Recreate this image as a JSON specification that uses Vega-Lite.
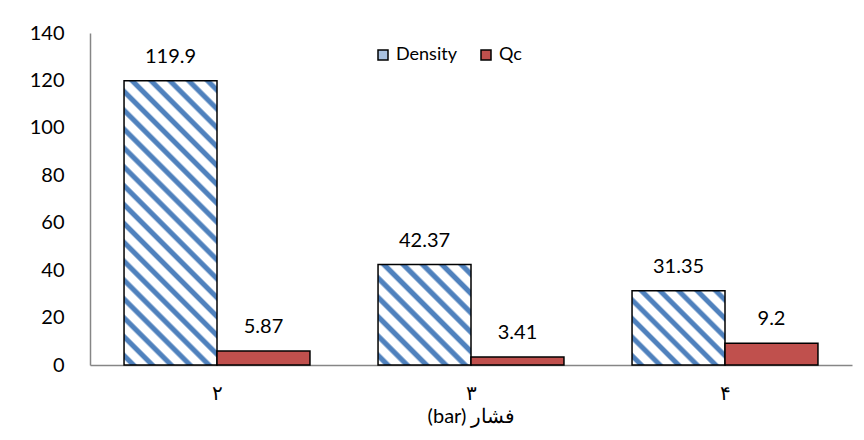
{
  "$schema": "https://vega.github.io/schema/vega-lite/v6.json",
  "autosize": {"type": "none"},
  "padding": {"left": 90, "top": 33, "right": 12, "bottom": 75},
  "width": 762,
  "height": 332,
  "config": {
    "font": "Lato",
    "view": {"stroke": null},
    "axis": {"labelFont": "Lato", "titleFont": "Lato", "labelColor": "#000000", "titleColor": "#000000"}
  },
  "data": {
    "values": [
      {"pressure": "۲", "series": "Density", "value": 119.9},
      {"pressure": "۲", "series": "Qc", "value": 5.87},
      {"pressure": "۳", "series": "Density", "value": 42.37},
      {"pressure": "۳", "series": "Qc", "value": 3.41},
      {"pressure": "۴", "series": "Density", "value": 31.35},
      {"pressure": "۴", "series": "Qc", "value": 9.2}
    ]
  },
  "encoding": {
    "x": {
      "field": "pressure",
      "type": "nominal",
      "sort": ["۲", "۳", "۴"],
      "scale": {"paddingInner": 0.268, "paddingOuter": 0.134},
      "axis": {
        "title": "(bar) فشار",
        "titleFontSize": 20,
        "titleFontWeight": "normal",
        "titlePadding": 3,
        "labelFontSize": 20,
        "labelAngle": 0,
        "labelPadding": 18,
        "ticks": false,
        "domainColor": "#868686",
        "domainWidth": 1.5
      }
    },
    "xOffset": {"field": "series", "sort": ["Density", "Qc"], "scale": {"paddingInner": 0, "paddingOuter": 0}},
    "y": {
      "field": "value",
      "type": "quantitative",
      "scale": {"domain": [0, 140], "nice": false},
      "axis": {
        "title": null,
        "values": [0, 20, 40, 60, 80, 100, 120, 140],
        "grid": false,
        "ticks": false,
        "labelFontSize": 20,
        "labelPadding": 26,
        "domainColor": "#868686",
        "domainWidth": 1.5
      }
    }
  },
  "layer": [
    {
      "mark": {"type": "bar", "stroke": "#000000", "strokeWidth": 1.5},
      "encoding": {
        "color": {
          "field": "series",
          "type": "nominal",
          "scale": {
            "domain": ["Density", "Qc"],
            "range": ["#A9C1E0", "#C0504D"]
          },
          "legend": {
            "title": null,
            "orient": "none",
            "legendX": 284,
            "legendY": 13,
            "direction": "horizontal",
            "symbolType": "square",
            "symbolSize": 100,
            "symbolStrokeColor": "#000000",
            "symbolStrokeWidth": 1.5,
            "symbolOpacity": 1,
            "labelFontSize": 18,
            "labelColor": "#000000",
            "labelFont": "Lato",
            "columnPadding": 20
          },
          "condition": [
            {
              "test": "datum.series === 'Density' && datum.pressure === '۲'",
              "value": {"gradient": "linear", "x1": 0, "y1": 1, "x2": 0.3922, "y2": -0.1989, "stops": [
                {"offset": 0.0125, "color": "#FFFFFF"}, {"offset": 0.0185, "color": "#4F81BD"}, {"offset": 0.0315, "color": "#4F81BD"}, {"offset": 0.0375, "color": "#FFFFFF"},
                {"offset": 0.0625, "color": "#FFFFFF"}, {"offset": 0.0685, "color": "#4F81BD"}, {"offset": 0.0815, "color": "#4F81BD"}, {"offset": 0.0875, "color": "#FFFFFF"},
                {"offset": 0.1125, "color": "#FFFFFF"}, {"offset": 0.1185, "color": "#4F81BD"}, {"offset": 0.1315, "color": "#4F81BD"}, {"offset": 0.1375, "color": "#FFFFFF"},
                {"offset": 0.1625, "color": "#FFFFFF"}, {"offset": 0.1685, "color": "#4F81BD"}, {"offset": 0.1815, "color": "#4F81BD"}, {"offset": 0.1875, "color": "#FFFFFF"},
                {"offset": 0.2125, "color": "#FFFFFF"}, {"offset": 0.2185, "color": "#4F81BD"}, {"offset": 0.2315, "color": "#4F81BD"}, {"offset": 0.2375, "color": "#FFFFFF"},
                {"offset": 0.2625, "color": "#FFFFFF"}, {"offset": 0.2685, "color": "#4F81BD"}, {"offset": 0.2815, "color": "#4F81BD"}, {"offset": 0.2875, "color": "#FFFFFF"},
                {"offset": 0.3125, "color": "#FFFFFF"}, {"offset": 0.3185, "color": "#4F81BD"}, {"offset": 0.3315, "color": "#4F81BD"}, {"offset": 0.3375, "color": "#FFFFFF"},
                {"offset": 0.3625, "color": "#FFFFFF"}, {"offset": 0.3685, "color": "#4F81BD"}, {"offset": 0.3815, "color": "#4F81BD"}, {"offset": 0.3875, "color": "#FFFFFF"},
                {"offset": 0.4125, "color": "#FFFFFF"}, {"offset": 0.4185, "color": "#4F81BD"}, {"offset": 0.4315, "color": "#4F81BD"}, {"offset": 0.4375, "color": "#FFFFFF"},
                {"offset": 0.4625, "color": "#FFFFFF"}, {"offset": 0.4685, "color": "#4F81BD"}, {"offset": 0.4815, "color": "#4F81BD"}, {"offset": 0.4875, "color": "#FFFFFF"},
                {"offset": 0.5125, "color": "#FFFFFF"}, {"offset": 0.5185, "color": "#4F81BD"}, {"offset": 0.5315, "color": "#4F81BD"}, {"offset": 0.5375, "color": "#FFFFFF"},
                {"offset": 0.5625, "color": "#FFFFFF"}, {"offset": 0.5685, "color": "#4F81BD"}, {"offset": 0.5815, "color": "#4F81BD"}, {"offset": 0.5875, "color": "#FFFFFF"},
                {"offset": 0.6125, "color": "#FFFFFF"}, {"offset": 0.6185, "color": "#4F81BD"}, {"offset": 0.6315, "color": "#4F81BD"}, {"offset": 0.6375, "color": "#FFFFFF"},
                {"offset": 0.6625, "color": "#FFFFFF"}, {"offset": 0.6685, "color": "#4F81BD"}, {"offset": 0.6815, "color": "#4F81BD"}, {"offset": 0.6875, "color": "#FFFFFF"},
                {"offset": 0.7125, "color": "#FFFFFF"}, {"offset": 0.7185, "color": "#4F81BD"}, {"offset": 0.7315, "color": "#4F81BD"}, {"offset": 0.7375, "color": "#FFFFFF"},
                {"offset": 0.7625, "color": "#FFFFFF"}, {"offset": 0.7685, "color": "#4F81BD"}, {"offset": 0.7815, "color": "#4F81BD"}, {"offset": 0.7875, "color": "#FFFFFF"},
                {"offset": 0.8125, "color": "#FFFFFF"}, {"offset": 0.8185, "color": "#4F81BD"}, {"offset": 0.8315, "color": "#4F81BD"}, {"offset": 0.8375, "color": "#FFFFFF"},
                {"offset": 0.8625, "color": "#FFFFFF"}, {"offset": 0.8685, "color": "#4F81BD"}, {"offset": 0.8815, "color": "#4F81BD"}, {"offset": 0.8875, "color": "#FFFFFF"},
                {"offset": 0.9125, "color": "#FFFFFF"}, {"offset": 0.9185, "color": "#4F81BD"}, {"offset": 0.9315, "color": "#4F81BD"}, {"offset": 0.9375, "color": "#FFFFFF"},
                {"offset": 0.9625, "color": "#FFFFFF"}, {"offset": 0.9685, "color": "#4F81BD"}, {"offset": 0.9815, "color": "#4F81BD"}, {"offset": 0.9875, "color": "#FFFFFF"}
              ]}
            },
            {
              "test": "datum.series === 'Density' && datum.pressure === '۳'",
              "value": {"gradient": "linear", "x1": 0, "y1": 1, "x2": 0.9598, "y2": -0.0372, "stops": [
                {"offset": 0.025, "color": "#FFFFFF"}, {"offset": 0.037, "color": "#4F81BD"}, {"offset": 0.063, "color": "#4F81BD"}, {"offset": 0.075, "color": "#FFFFFF"},
                {"offset": 0.125, "color": "#FFFFFF"}, {"offset": 0.137, "color": "#4F81BD"}, {"offset": 0.163, "color": "#4F81BD"}, {"offset": 0.175, "color": "#FFFFFF"},
                {"offset": 0.225, "color": "#FFFFFF"}, {"offset": 0.237, "color": "#4F81BD"}, {"offset": 0.263, "color": "#4F81BD"}, {"offset": 0.275, "color": "#FFFFFF"},
                {"offset": 0.325, "color": "#FFFFFF"}, {"offset": 0.337, "color": "#4F81BD"}, {"offset": 0.363, "color": "#4F81BD"}, {"offset": 0.375, "color": "#FFFFFF"},
                {"offset": 0.425, "color": "#FFFFFF"}, {"offset": 0.437, "color": "#4F81BD"}, {"offset": 0.463, "color": "#4F81BD"}, {"offset": 0.475, "color": "#FFFFFF"},
                {"offset": 0.525, "color": "#FFFFFF"}, {"offset": 0.537, "color": "#4F81BD"}, {"offset": 0.563, "color": "#4F81BD"}, {"offset": 0.575, "color": "#FFFFFF"},
                {"offset": 0.625, "color": "#FFFFFF"}, {"offset": 0.637, "color": "#4F81BD"}, {"offset": 0.663, "color": "#4F81BD"}, {"offset": 0.675, "color": "#FFFFFF"},
                {"offset": 0.725, "color": "#FFFFFF"}, {"offset": 0.737, "color": "#4F81BD"}, {"offset": 0.763, "color": "#4F81BD"}, {"offset": 0.775, "color": "#FFFFFF"},
                {"offset": 0.825, "color": "#FFFFFF"}, {"offset": 0.837, "color": "#4F81BD"}, {"offset": 0.863, "color": "#4F81BD"}, {"offset": 0.875, "color": "#FFFFFF"},
                {"offset": 0.925, "color": "#FFFFFF"}, {"offset": 0.937, "color": "#4F81BD"}, {"offset": 0.963, "color": "#4F81BD"}, {"offset": 0.975, "color": "#FFFFFF"}
              ]}
            },
            {
              "test": "datum.series === 'Density' && datum.pressure === '۴'",
              "value": {"gradient": "linear", "x1": 0, "y1": 1, "x2": 1.0981, "y2": 0.1227, "stops": [
                {"offset": 0.0278, "color": "#FFFFFF"}, {"offset": 0.0411, "color": "#4F81BD"}, {"offset": 0.0700, "color": "#4F81BD"}, {"offset": 0.0833, "color": "#FFFFFF"},
                {"offset": 0.1389, "color": "#FFFFFF"}, {"offset": 0.1522, "color": "#4F81BD"}, {"offset": 0.1811, "color": "#4F81BD"}, {"offset": 0.1944, "color": "#FFFFFF"},
                {"offset": 0.2500, "color": "#FFFFFF"}, {"offset": 0.2633, "color": "#4F81BD"}, {"offset": 0.2922, "color": "#4F81BD"}, {"offset": 0.3055, "color": "#FFFFFF"},
                {"offset": 0.3611, "color": "#FFFFFF"}, {"offset": 0.3744, "color": "#4F81BD"}, {"offset": 0.4033, "color": "#4F81BD"}, {"offset": 0.4166, "color": "#FFFFFF"},
                {"offset": 0.4722, "color": "#FFFFFF"}, {"offset": 0.4855, "color": "#4F81BD"}, {"offset": 0.5144, "color": "#4F81BD"}, {"offset": 0.5277, "color": "#FFFFFF"},
                {"offset": 0.5834, "color": "#FFFFFF"}, {"offset": 0.5967, "color": "#4F81BD"}, {"offset": 0.6256, "color": "#4F81BD"}, {"offset": 0.6389, "color": "#FFFFFF"},
                {"offset": 0.6945, "color": "#FFFFFF"}, {"offset": 0.7078, "color": "#4F81BD"}, {"offset": 0.7367, "color": "#4F81BD"}, {"offset": 0.7500, "color": "#FFFFFF"},
                {"offset": 0.8056, "color": "#FFFFFF"}, {"offset": 0.8189, "color": "#4F81BD"}, {"offset": 0.8478, "color": "#4F81BD"}, {"offset": 0.8611, "color": "#FFFFFF"},
                {"offset": 0.9167, "color": "#FFFFFF"}, {"offset": 0.9300, "color": "#4F81BD"}, {"offset": 0.9589, "color": "#4F81BD"}, {"offset": 0.9722, "color": "#FFFFFF"}
              ]}
            }
          ]
        }
      }
    },
    {
      "mark": {"type": "text", "baseline": "alphabetic", "align": "center", "dy": -18, "fontSize": 20, "font": "Lato", "color": "#000000"},
      "encoding": {
        "text": {"field": "value", "type": "quantitative", "format": "~g"}
      }
    }
  ]
}
